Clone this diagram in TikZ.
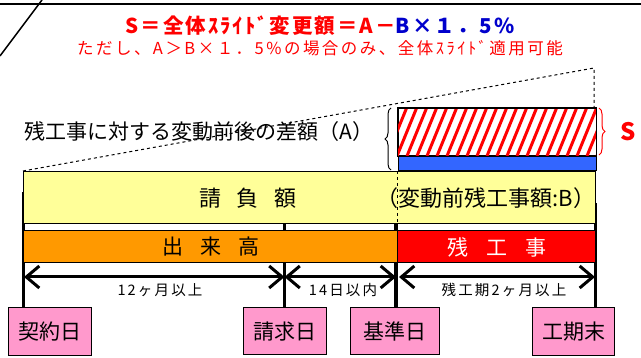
\documentclass[tikz,border=0pt]{standalone}
\usepackage{fontspec}
\setmainfont{Noto Sans CJK JP}
\newfontfamily\jpsp[LetterSpace=15]{Noto Sans CJK JP}
\newfontfamily\jptitle[LetterSpace=10]{Noto Sans CJK JP}
\usetikzlibrary{arrows.meta,decorations.pathreplacing,calc}
\definecolor{barY}{HTML}{FFFF99}
\definecolor{barO}{HTML}{FF9900}
\definecolor{barR}{HTML}{FF0000}
\definecolor{pinkB}{HTML}{FF99CC}
\definecolor{blueB}{HTML}{3366FF}
\definecolor{titleB}{HTML}{0000CC}
\tikzset{
  bar/.style={draw=black, line width=1.3pt, anchor=north west, inner sep=0pt},
  datebox/.style={draw=black, line width=1.2pt, fill=pinkB, anchor=north west, inner sep=0pt, font=\fontsize{21}{21}\selectfont},
  vline/.style={line width=3.3pt},
  span/.style={line width=3pt, {Straight Barb[length=13pt,width=22pt]}-{Straight Barb[length=13pt,width=22pt]}},
  spanlabel/.style={font=\jpsp\fontsize{14.5}{14.5}\selectfont},
}
\begin{document}
\begin{tikzpicture}[x=1pt,y=-1pt]
\useasboundingbox (0,0) rectangle (641,358);
% frame pieces at top
\coordinate (tl) at (0,4);
\coordinate (tr) at (641,4);
\draw[line width=2.5pt] (tl) -- (tr);
\coordinate (d1) at (0,56);
\coordinate (d2) at (42,0);
\draw[line width=1.5pt] (d1) -- (d2);
% titles
\node (title) at (320,26) {\jptitle\bfseries\fontsize{20.5}{20.5}\selectfont\color{red}S＝全体ｽﾗｲﾄﾞ変更額＝A－\color{titleB}B×１．5\%};
\node (sub) at (320,48) {\jpsp\fontsize{16.5}{16.5}\selectfont\color{red}ただし、A＞B×１．5\%の場合のみ、全体ｽﾗｲﾄﾞ適用可能};
% vertical timeline lines (behind bars)
\coordinate (v1) at (23.5,192);
\coordinate (v2) at (284.5,223);
\coordinate (v3) at (396,223);
\coordinate (v4) at (595.5,203);
% date boxes
\node[datebox, minimum width=83pt, minimum height=48pt] (keiyaku) at (8,307) {契約日};
\node[datebox, minimum width=83pt, minimum height=47pt] (seikyu) at (243,307) {請求日};
\node[datebox, minimum width=89pt, minimum height=47pt] (kijun) at (350,307) {基準日};
\node[datebox, minimum width=82pt, minimum height=48pt] (kouki) at (532,307) {工期末};
\draw[vline] (v1) -- (v1 |- keiyaku.north);
\draw[vline] (v2) -- (v2 |- seikyu.north);
\draw[vline] (v3) -- (v3 |- kijun.north);
\draw[vline] (v4) -- (v4 |- kouki.north);
% bars
\node[bar, fill=barY, minimum width=572pt, minimum height=52pt] (ukeoi) at (23,171) {};
\node[bar, fill=barO, minimum width=374pt, minimum height=32pt] (deki) at (23,230) {};
\node[bar, fill=barR, minimum width=198pt, minimum height=32pt] (zan) at (397,230) {};
\node[bar, fill=blueB, minimum width=198pt, minimum height=15pt] (blue) at (397.5,155) {};
\node[bar, fill=white, minimum width=198pt, minimum height=47pt] (diff) at (397.5,108) {};
\begin{scope}
\clip (diff.south west) rectangle (diff.north east);
\foreach \i in {-4,...,21} \draw[barR, line width=3pt] (397+\i*10,156) -- (397+\i*10+20,107);
\end{scope}
\draw[line width=1.3pt] (diff.south west) rectangle (diff.north east);
% bar texts
\node[font=\fontsize{22}{22}\selectfont] (t1) at (248,198) {請\hspace{16pt}負\hspace{16pt}額};
\node[font=\fontsize{22}{22}\selectfont] (t2) at (486,198) {（変動前残工事額:B）};
\node[font=\fontsize{21}{21}\selectfont] (t3) at (211,247) {出\hspace{17pt}来\hspace{17pt}高};
\node[font=\fontsize{21}{21}\selectfont, text=white] (t4) at (497,247) {残\hspace{18pt}工\hspace{18pt}事};
% dashed guides
\coordinate (corner) at (594,68);
\draw[dashed, line width=1pt] (ukeoi.north west) -- (corner) -- (corner |- diff.north);
\draw[dashed, line width=1pt] (blue.south west) -- (blue.south west |- ukeoi.south);
% braces
\coordinate (bl1) at (391,170);
\coordinate (bl2) at (391,108);
\draw[line width=1pt, decorate, decoration={brace, amplitude=6pt}] (bl1) -- (bl2);
\coordinate (br1) at (599,108);
\coordinate (br2) at (599,155);
\draw[barR, line width=1pt, decorate, decoration={brace, amplitude=6pt}] (br1) -- (br2);
\node[text=barR, font=\bfseries\fontsize{24}{24}\selectfont] (S) at (628,132) {S};
\node[font=\fontsize{21}{21}\selectfont] (alabel) at (199,132) {残工事に対する変動前後の差額（A）};
% spans
\coordinate (a0) at (24,277);
\coordinate (a1) at (284.5,277);
\coordinate (a2) at (396,277);
\coordinate (a3) at (399,277);
\coordinate (a4) at (595,277);
\draw[span] (a0) -- (a1);
\draw[span] (a1) -- (a2);
\draw[span] (a3) -- (a4);
\node[spanlabel] (l1) at (160,290) {12ヶ月以上};
\node[spanlabel] (l2) at (343,290) {14日以内};
\node[spanlabel] (l3) at (504,290) {残工期2ヶ月以上};
\end{tikzpicture}
\end{document}
